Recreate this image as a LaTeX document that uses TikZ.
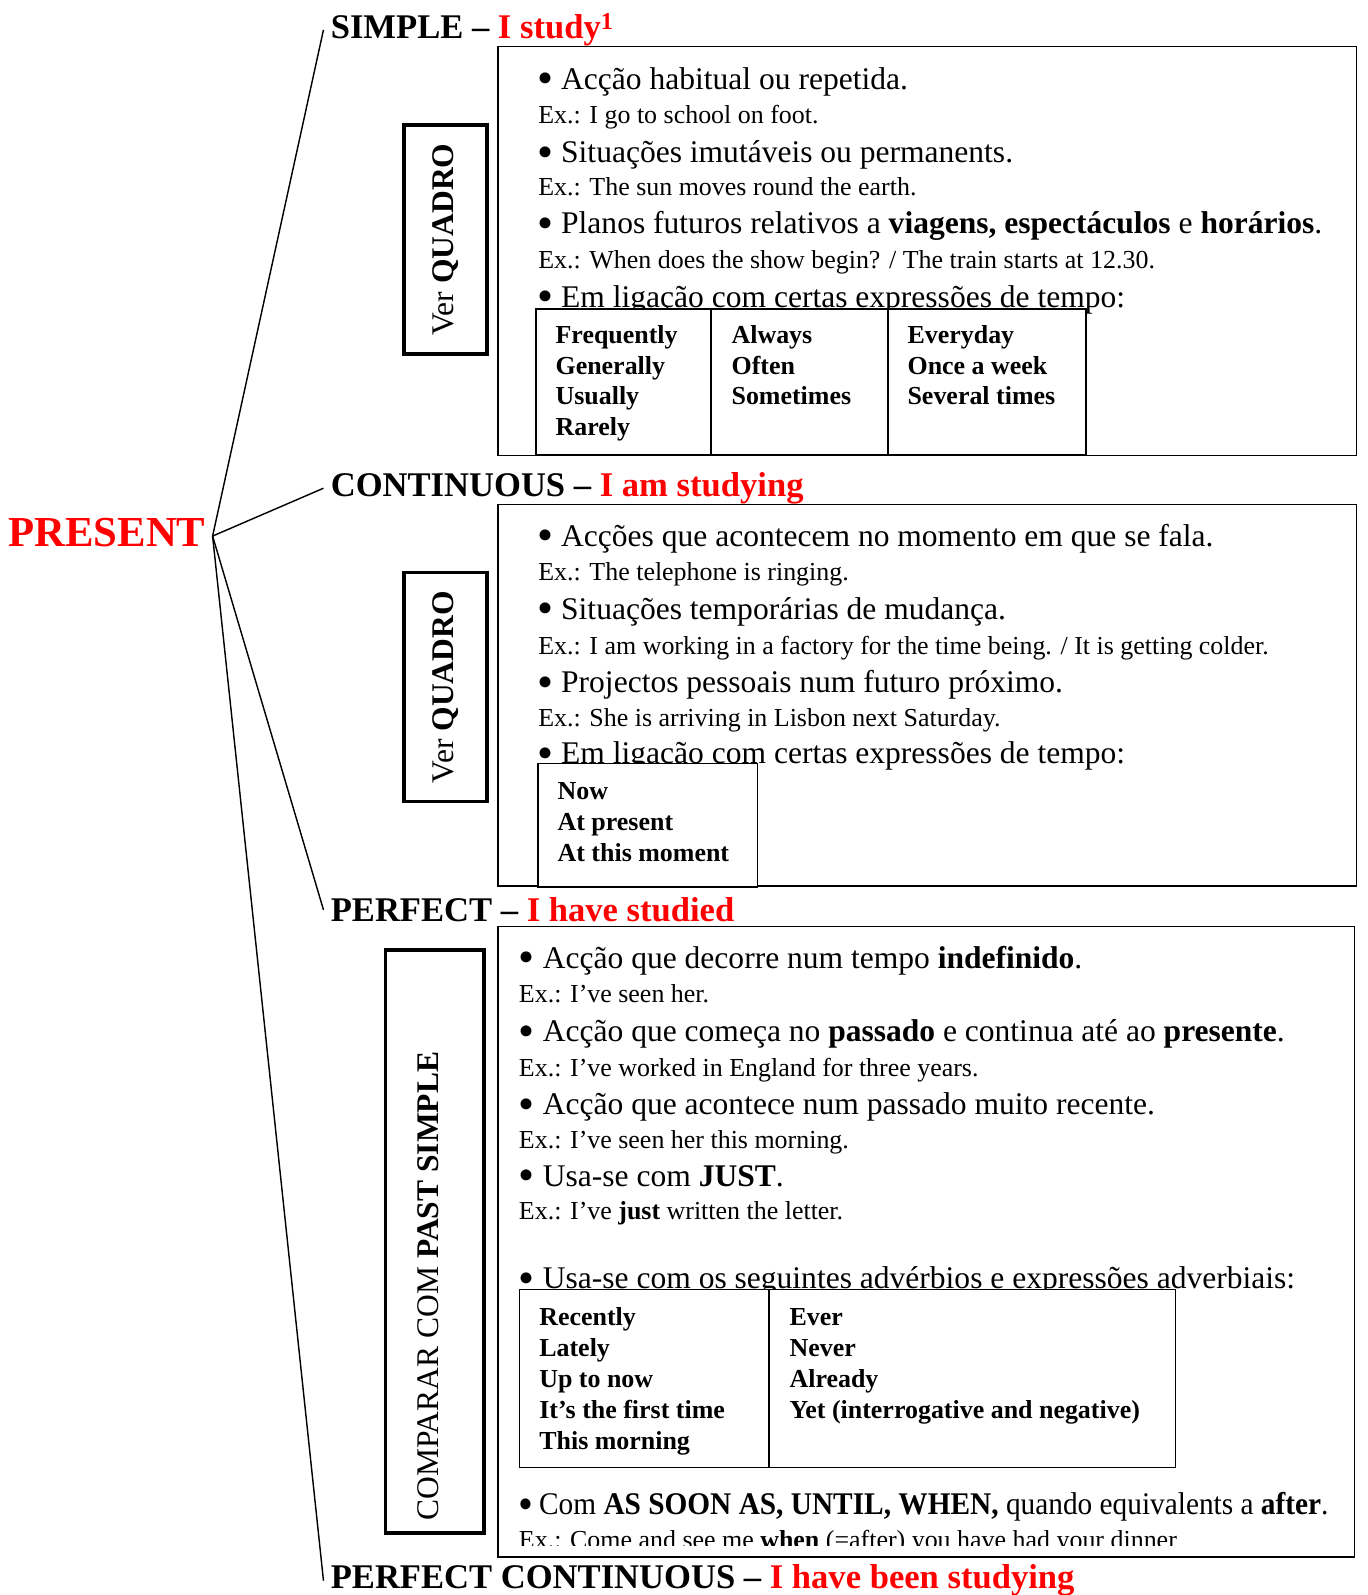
\documentclass[tikz,border=0pt]{standalone}
\usepackage{fontspec}
\setmainfont{Liberation Serif}
\newfontfamily\narrowfont[FakeStretch=0.93]{Liberation Serif}
\newcommand{\bul}{\raisebox{-4.4pt}{\scalebox{1.45}{\textbullet}}}
\usetikzlibrary{positioning}

\begin{document}
\begin{tikzpicture}[
    x=1pt, y=-1pt,
    tense/.style={anchor=base west, inner xsep=7pt, inner ysep=0pt, font=\bfseries\fontsize{34}{34}\selectfont},
    panel/.style={draw, line width=1.5pt, anchor=north west, inner sep=0pt},
    sidebox/.style={draw, line width=3.5pt, rotate=90, inner sep=0pt, font=\fontsize{31}{31}\selectfont},
    item/.style={anchor=base west, inner sep=0pt, font=\fontsize{31}{31}\selectfont},
    example/.style={anchor=base west, inner sep=0pt, font=\fontsize{25.5}{25.5}\selectfont},
    cell/.style={draw, fill=white, line width=1.5pt, anchor=north west, inner sep=0pt},
    word/.style={anchor=base west, inner sep=0pt, font=\bfseries\fontsize{25.5}{25.5}\selectfont},
    branch/.style={line width=1.4pt}
]
\useasboundingbox (0,0) rectangle (1344,1568);

% root and the four tenses
\node[anchor=base west, inner sep=0pt, text=red, font=\bfseries\fontsize{42}{42}\selectfont] (present) at (8,537) {PRESENT};
\coordinate (hub) at (209,527);

\node[tense] (simple) at (318,38) {SIMPLE – \textcolor{red}{I study\textsuperscript{1}}};
\node[tense] (continuous) at (318,488) {CONTINUOUS – \textcolor{red}{I am studying}};
\node[tense] (perfect) at (318,906) {PERFECT – \textcolor{red}{I have studied}};
\node[tense] (perfcont) at (318,1562) {PERFECT CONTINUOUS – \textcolor{red}{I have been studying}};

\foreach \t in {simple, continuous, perfect, perfcont}
  \draw[branch] (hub) -- (\t.west);

% panels
\node[panel, minimum width=844pt, minimum height=402pt] (simplebox) at (489,45) {};
\node[panel, minimum width=844pt, minimum height=375pt] (contbox) at (489,495) {};
\node[panel, minimum width=842pt, minimum height=620pt] (perfbox) at (489,910) {};

\node[sidebox, minimum width=225pt, minimum height=82pt] (see1) at (438,235.5) {Ver \textbf{QUADRO}};
\node[sidebox, minimum width=225pt, minimum height=82pt] (see2) at (438,675.5) {Ver \textbf{QUADRO}};
\node[sidebox, minimum width=573pt, minimum height=97pt] (compare) at (427.5,1220.5) {};
\node[anchor=west, rotate=90, inner sep=0pt, font=\fontsize{31}{31}\selectfont] (comparetext) at (421,1495) {COMPARAR COM \textbf{PAST SIMPLE}};

% simple
\node[item] (s1) at (528,88) {\bul\ Acção habitual ou repetida.};
\node[example] (s1x) at (529,121) {Ex.: I go to school on foot.};
\node[item] (s2) at (528,160) {\bul\ Situações imutáveis ou permanents.};
\node[example] (s2x) at (529,192) {Ex.: The sun moves round the earth.};
\node[item] (s3) at (528,230) {\bul\ Planos futuros relativos a \textbf{viagens, espectáculos} e \textbf{horários}.};
\node[example] (s3x) at (529,264) {Ex.: When does the show begin? / The train starts at 12.30.};
\node[item] (s4) at (528,302) {\bul\ Em ligação com certas expressões de tempo:};

\node[cell, minimum width=172pt, minimum height=143pt] (q1a) at (526,303) {};
\node[cell, minimum width=174pt, minimum height=143pt] (q1b) at (698,303) {};
\node[cell, minimum width=195pt, minimum height=143pt] (q1c) at (872,303) {};
\foreach \w [count=\i] in {Frequently, Generally, Usually, Rarely}
  \node[word] (wa\i) at (546,308+30*\i) {\w};
\foreach \w [count=\i] in {Always, Often, Sometimes}
  \node[word] (wb\i) at (719,308+30*\i) {\w};
\foreach \w [count=\i] in {Everyday, Once a week, Several times}
  \node[word] (wc\i) at (892,308+30*\i) {\w};

% continuous
\node[item] (c1) at (528,537) {\bul\ Acções que acontecem no momento em que se fala.};
\node[example] (c1x) at (529,571) {Ex.: The telephone is ringing.};
\node[item] (c2) at (528,609) {\bul\ Situações temporárias de mudança.};
\node[example] (c2x) at (529,643) {Ex.: I am working in a factory for the time being. / It is getting colder.};
\node[item] (c3) at (528,681) {\bul\ Projectos pessoais num futuro próximo.};
\node[example] (c3x) at (529,714) {Ex.: She is arriving in Lisbon next Saturday.};
\node[item] (c4) at (528,751) {\bul\ Em ligação com certas expressões de tempo:};

\node[cell, minimum width=216pt, minimum height=121pt] (q2) at (528,750) {};
\foreach \w [count=\i] in {Now, At present, At this moment}
  \node[word] (wd\i) at (548,755.5+30.5*\i) {\w};

% perfect
\node[item] (p1) at (510,952) {\bul\ Acção que decorre num tempo \textbf{indefinido}.};
\node[example] (p1x) at (510,986) {Ex.: I’ve seen her.};
\node[item] (p2) at (510,1024) {\bul\ Acção que começa no \textbf{passado} e continua até ao \textbf{presente}.};
\node[example] (p2x) at (510,1058) {Ex.: I’ve worked in England for three years.};
\node[item] (p3) at (510,1096) {\bul\ Acção que acontece num passado muito recente.};
\node[example] (p3x) at (510,1129) {Ex.: I’ve seen her this morning.};
\node[item] (p4) at (510,1166) {\bul\ Usa-se com \textbf{JUST}.};
\node[example] (p4x) at (510,1199) {Ex.: I’ve \textbf{just} written the letter.};
\node[item] (p5) at (510,1267) {\bul\ Usa-se com os seguintes advérbios e expressões adverbiais:};

\node[cell, minimum width=245pt, minimum height=175pt] (q3a) at (510,1267) {};
\node[cell, minimum width=400pt, minimum height=175pt] (q3b) at (755,1267) {};
\foreach \w [count=\i] in {Recently, Lately, Up to now, It’s the first time, This morning}
  \node[word] (we\i) at (530,1272.5+30.5*\i) {\w};
\foreach \w [count=\i] in {Ever, Never, Already, Yet (interrogative and negative)}
  \node[word] (wf\i) at (776,1272.5+30.5*\i) {\w};

\node[item, font=\narrowfont\fontsize{31}{31}\selectfont] (p6) at (510,1489) {\bul\,Com \textbf{AS SOON AS, UNTIL, WHEN,} quando equivalents a \textbf{after}.};
\begin{scope}
  \clip (489,1490) rectangle (1331,1519);
  \node[example] (p6x) at (510,1522) {Ex.: Come and see me \textbf{when} (=after) you have had your dinner};
\end{scope}
\end{tikzpicture}
\end{document}
